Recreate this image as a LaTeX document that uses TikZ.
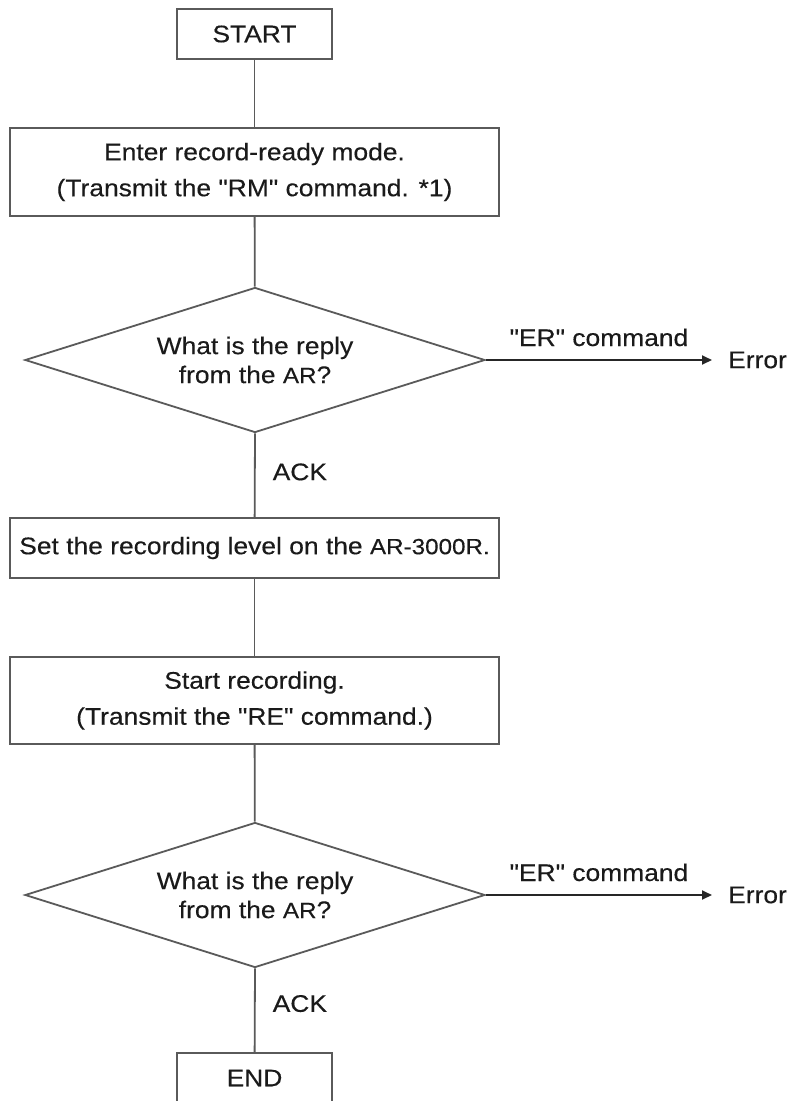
\documentclass[tikz,border=0pt]{standalone}
\usepackage{fontspec}
\setmainfont{Liberation Sans}[FakeStretch=1.1, FakeBold=0.3, Ligatures=TeXOff]
\usetikzlibrary{shapes.geometric,arrows.meta}
\definecolor{inkc}{HTML}{1A1A1A}
\definecolor{framec}{HTML}{5A5A5A}
\definecolor{arrowc}{HTML}{262626}
% model names are set a little smaller than the running text
\newcommand{\modelname}[1]{{\fontsize{22}{28}\selectfont #1}}
\begin{document}
\begin{tikzpicture}[x=1pt,y=-1pt,
  every node/.style={text=inkc},
  boxtxt/.style={font=\fontsize{24}{36}\selectfont},
  procbox/.style={draw=framec, line width=1.8pt, rectangle, inner sep=0pt,
    align=center, boxtxt},
  termbox/.style={procbox, minimum width=155pt, minimum height=50pt},
  widebox/.style={procbox, minimum width=489pt},
  decision/.style={draw=framec, line width=1.8pt, diamond, shape aspect=3.15,
    minimum width=460pt, minimum height=145pt, inner sep=0pt, align=center,
    font=\fontsize{24}{29}\selectfont},
  flow/.style={draw=framec, line width=1.8pt},
  errflow/.style={draw=arrowc, line width=1.8pt,
    -{Triangle[length=10pt,width=9pt]}},
  edgetxt/.style={font=\fontsize{24}{28}\selectfont, inner sep=0pt},
  errtxt/.style={font=\fontsize{24}{28}\selectfont, inner ysep=0pt,
    inner xsep=16pt, anchor=west}]
\useasboundingbox[fill=white] (0,0) rectangle (794,1101);

% process steps
\node[termbox] (start) at (254.5,34) {START};
\node[widebox, minimum height=88pt] (enter) at (254.5,172)
  {Enter record-ready mode.\\(Transmit the "RM" command. *1)};
\node[decision] (ask1) at (255,360)
  {What is the reply\\from the \modelname{AR}?};
\node[widebox, minimum height=60pt] (level) at (254.5,548)
  {Set the recording level on the \modelname{AR-3000R.}};
\node[widebox, minimum height=87pt] (rec) at (254.5,700.5)
  {Start recording.\\(Transmit the "RE" command.)};
\node[decision] (ask2) at (255,895)
  {What is the reply\\from the \modelname{AR}?};
\node[termbox] (stop) at (254.5,1078) {END};

% error exits
\node[errtxt] (err1) at (712,360) {Error};
\node[errtxt] (err2) at (712,895) {Error};

% main flow
\draw[flow] (start) -- (enter);
\draw[flow] (enter) -- (ask1);
\draw[flow] (ask1.south) -- node[edgetxt, pos=0.46, anchor=west, xshift=17pt] (ack1) {ACK} (level);
\draw[flow] (level) -- (rec);
\draw[flow] (rec) -- (ask2);
\draw[flow] (ask2.south) -- node[edgetxt, pos=0.42, anchor=west, xshift=17pt] (ack2) {ACK} (stop);

% error branches
\draw[errflow] (ask1.east) -- node[edgetxt, midway, anchor=base, yshift=14pt] (er1) {"ER" command} (err1.west);
\draw[errflow] (ask2.east) -- node[edgetxt, midway, anchor=base, yshift=14pt] (er2) {"ER" command} (err2.west);
\end{tikzpicture}
\end{document}
